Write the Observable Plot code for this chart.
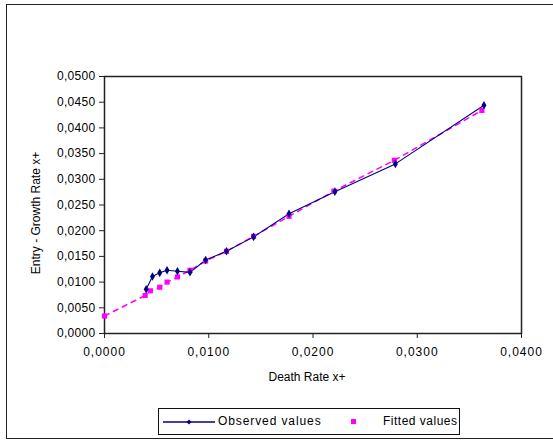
<!DOCTYPE html>
<html>
<head>
<meta charset="utf-8">
<script src="https://cdn.jsdelivr.net/npm/d3@7"></script>
<script src="https://cdn.jsdelivr.net/npm/@observablehq/plot@0.6"></script>
<style>
  html, body { margin: 0; padding: 0; background: #fff; }
  #wrap { position: relative; width: 553px; height: 442px; font-family: "Liberation Sans", Arial, sans-serif; }
  #border { position: absolute; left: 6px; top: 4px; width: 549px; height: 435px; border: 1.5px solid #222; box-sizing: border-box; pointer-events: none; }
  #chart { position: absolute; left: 0; top: 0; }
  #legend { position: absolute; left: 158px; top: 408px; width: 302px; height: 27px; border: 1px solid #111; box-sizing: border-box; font-size: 12px; color: #000; }
  .li { position: absolute; top: 5px; white-space: nowrap; }
  .xt text { letter-spacing: 1px; }
  .yt text { letter-spacing: 0.3px; }
</style>
</head>
<body>
<div id="wrap">
  <div id="chart"></div>
  <div id="border"></div>
  <div id="legend">
    <svg width="60" height="25" style="position:absolute;left:4px;top:0">
      <line x1="0" y1="13" x2="52" y2="13" stroke="#000080" stroke-width="1.3"/>
      <path d="M26,10.5 L28.5,13 L26,15.5 L23.5,13 Z" fill="#000080"/>
    </svg>
    <span class="li" style="left:59px; letter-spacing:0.9px">Observed values</span>
    <svg width="10" height="25" style="position:absolute;left:190px;top:0">
      <rect x="2" y="10" width="5" height="5" fill="#ff00ff"/>
    </svg>
    <span class="li" style="left:224px; letter-spacing:0.5px">Fitted values</span>
  </div>
</div>
<script>
// Observed values
const obsX = [0.0040, 0.0046, 0.0053, 0.0060, 0.0070, 0.0082, 0.0097, 0.0117, 0.0143, 0.0177, 0.0221, 0.0279, 0.0364];
const obsY = [0.0086, 0.0111, 0.0118, 0.0123, 0.0121, 0.0119, 0.0143, 0.0160, 0.0188, 0.0233, 0.0276, 0.0330, 0.0444];
// Fitted values
const fitX = [0.0000, 0.0039, 0.0044, 0.0053, 0.0060, 0.0070, 0.0082, 0.0097, 0.0117, 0.0143, 0.0177, 0.0220, 0.0278, 0.0362];
const fitY = [0.0034, 0.0074, 0.0083, 0.0090, 0.0100, 0.0110, 0.0123, 0.0141, 0.0160, 0.0189, 0.0228, 0.0277, 0.0337, 0.0434];
// Ticks
const xTicks = [0, 0.01, 0.02, 0.03, 0.04];
const yTicks = [0, 0.005, 0.01, 0.015, 0.02, 0.025, 0.03, 0.035, 0.04, 0.045, 0.05];

const observed = obsX.map((x, i) => ({x, y: obsY[i]}));
const fitted = fitX.map((x, i) => ({x, y: fitY[i]}));
const fmt = d => d.toFixed(4).replace(".", ",");

const chart = Plot.plot({
  width: 553,
  height: 442,
  marginLeft: 104,
  marginRight: 32,
  marginTop: 76,
  marginBottom: 109,
  style: { fontFamily: "Liberation Sans, Arial, sans-serif", fontSize: "12px", background: "transparent", color: "#000" },
  x: { domain: [0, 0.04], ticks: xTicks },
  y: { domain: [0, 0.05], ticks: yTicks },
  marks: [
    Plot.frame({ stroke: "#222", strokeWidth: 1.5 }),
    Plot.axisX({ ticks: xTicks, tickFormat: fmt, tickSize: 5, tickPadding: 9, label: null, fontSize: 12, stroke: "#222", className: "xt" }),
    Plot.axisY({ ticks: yTicks, tickFormat: fmt, tickSize: 5, tickPadding: 4, label: null, fontSize: 12, stroke: "#222", className: "yt" }),
    Plot.line(fitted, { x: "x", y: "y", stroke: "#ff00ff", strokeWidth: 1.5, strokeDasharray: "5,5" }),
    Plot.line(observed, { x: "x", y: "y", stroke: "#000080", strokeWidth: 1.1 }),
    Plot.dot(fitted, { x: "x", y: "y", symbol: "square", r: 2.9, fill: "#ff00ff", stroke: "none" }),
    Plot.dot(observed, { x: "x", y: "y", symbol: "diamond", r: 2.6, fill: "#000080", stroke: "none" }),
    Plot.text(["Death Rate x+"], { frameAnchor: "bottom", dx: -6, dy: 47, fontSize: 12, fill: "#000", style: "letter-spacing:0.3px" }),
    Plot.text(["Entry - Growth Rate x+"], { frameAnchor: "left", textAnchor: "middle", dx: -68, dy: 8, rotate: -90, fontSize: 12, fill: "#000", style: "letter-spacing:0.8px" })
  ]
});
document.getElementById("chart").appendChild(chart);
</script>
</body>
</html>
